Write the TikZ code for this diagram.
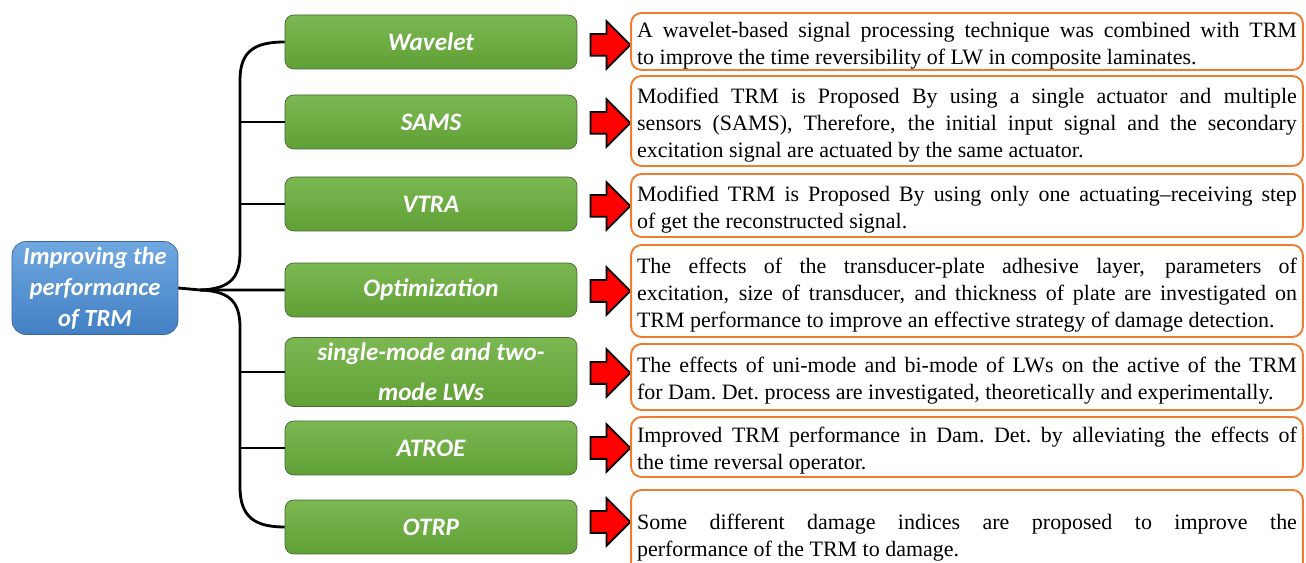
\documentclass[tikz,border=0pt]{standalone}
\usepackage{fontspec}
\setmainfont{Liberation Serif}
\newfontfamily\calib{Carlito}
\usetikzlibrary{positioning, shapes.arrows, calc}

\definecolor{rootlight}{RGB}{112,168,224}
\definecolor{rootdark}{RGB}{66,128,196}
\definecolor{rootedge}{RGB}{60,100,150}
\definecolor{methodlight}{RGB}{124,184,82}
\definecolor{methoddark}{RGB}{96,160,54}
\definecolor{methodedge}{RGB}{70,100,50}
\definecolor{noteorange}{RGB}{237,125,49}

\begin{document}
\begin{tikzpicture}[
        x=0.02cm, y=-0.02cm,
        root/.style={rounded corners=8pt, draw=rootedge, top color=rootlight, bottom color=rootdark, text=white, align=center,
            font=\calib\bfseries\itshape\fontsize{14}{17.6}\selectfont, minimum width=3.32cm, minimum height=1.86cm, inner sep=2pt},
        method/.style={rounded corners=5pt, draw=methodedge, top color=methodlight, bottom color=methoddark, text=white, align=center,
            font=\calib\bfseries\itshape\fontsize{14.3}{22.7}\selectfont, minimum width=5.84cm, minimum height=1.08cm, inner sep=2pt},
        note/.style={rounded corners=6pt, draw=noteorange, line width=1.1pt, text width=13.2cm, inner xsep=0.12cm, inner ysep=0pt,
            align=justify, font=\fontsize{12.5}{15.3}\selectfont, execute at end node={\endgraf\kern-0.16cm}},
        redarrow/.style={single arrow, draw=black, fill=red, line width=1pt, minimum height=0.8cm, minimum width=0.92cm,
            single arrow head extend=0.26cm, inner xsep=0pt, inner ysep=0.2cm},
        branch/.style={line width=1.6pt},
    ]
    \useasboundingbox (0,0) rectangle (1306,563);

    % Root topic
    \node[root] (root) at (95,288) {Improving the\\performance\\of TRM};

    % Methods
    \node[method] (m1) at (431,42) {Wavelet};
    \node[method] (m2) at (431,122) {SAMS};
    \node[method] (m3) at (431,204) {VTRA};
    \node[method] (m4) at (431,290) {Optimization};
    \node[method, minimum height=1.38cm] (m5) at (431,372) {single-mode and two-\\mode LWs};
    \node[method] (m6) at (431,448) {ATROE};
    \node[method] (m7) at (431,527) {OTRP};

    % Tree from the root to the methods
    \coordinate (hub) at (200,290);
    \coordinate (spine) at (240,0);
    \draw[branch] (root.east) -- (hub) -- (m4.west);
    \draw[branch] (hub) .. controls (232,289) and (240,276) .. (240,252) -- (240,80)
        .. controls (240,50) and (256,42) .. (m1.west);
    \draw[branch] (hub) .. controls (232,291) and (240,304) .. (240,328) -- (240,487)
        .. controls (240,518) and (256,527) .. (m7.west);
    \foreach \n in {2,3,5,6}
        \draw[branch] (m\n.west -| spine) -- (m\n.west);

    % Red arrows
    \foreach \n / \y in {1/45, 2/123, 3/206, 4/291, 5/373, 6/448, 7/522}
        \node[redarrow] (arr\n) at (605,\y) {};

    % Descriptions
    \node[note, minimum height=1.14cm] (d1) at (967,41.5) {A wavelet-based signal processing technique was combined with TRM\linebreak to improve the time reversibility of LW in composite laminates.};
    \node[note, minimum height=1.80cm] (d2) at (967,121) {Modified TRM is Proposed By using a single actuator and multiple\linebreak sensors (SAMS), Therefore, the initial input signal and the secondary\linebreak excitation signal are actuated by the same actuator.};
    \node[note, minimum height=1.26cm] (d3) at (967,205.5) {Modified TRM is Proposed By using only one actuating--receiving step\linebreak of get the reconstructed signal.};
    \node[note, minimum height=1.84cm] (d4) at (967,291) {The effects of the transducer-plate adhesive layer, parameters of\linebreak excitation, size of transducer, and thickness of plate are investigated on\linebreak TRM performance to improve an effective strategy of damage detection.};
    \node[note, minimum height=1.32cm] (d5) at (967,377) {The effects of uni-mode and bi-mode of LWs on the active of the TRM\linebreak for Dam.\ Det.\ process are investigated, theoretically and experimentally.};
    \node[note, minimum height=1.20cm] (d6) at (967,447) {Improved TRM performance in Dam.\ Det.\ by alleviating the effects of\linebreak the time reversal operator.};
    \node[note, minimum height=1.76cm] (d7) at (967,534) {Some different damage indices are proposed to improve the\linebreak performance of the TRM to damage.};
\end{tikzpicture}
\end{document}
